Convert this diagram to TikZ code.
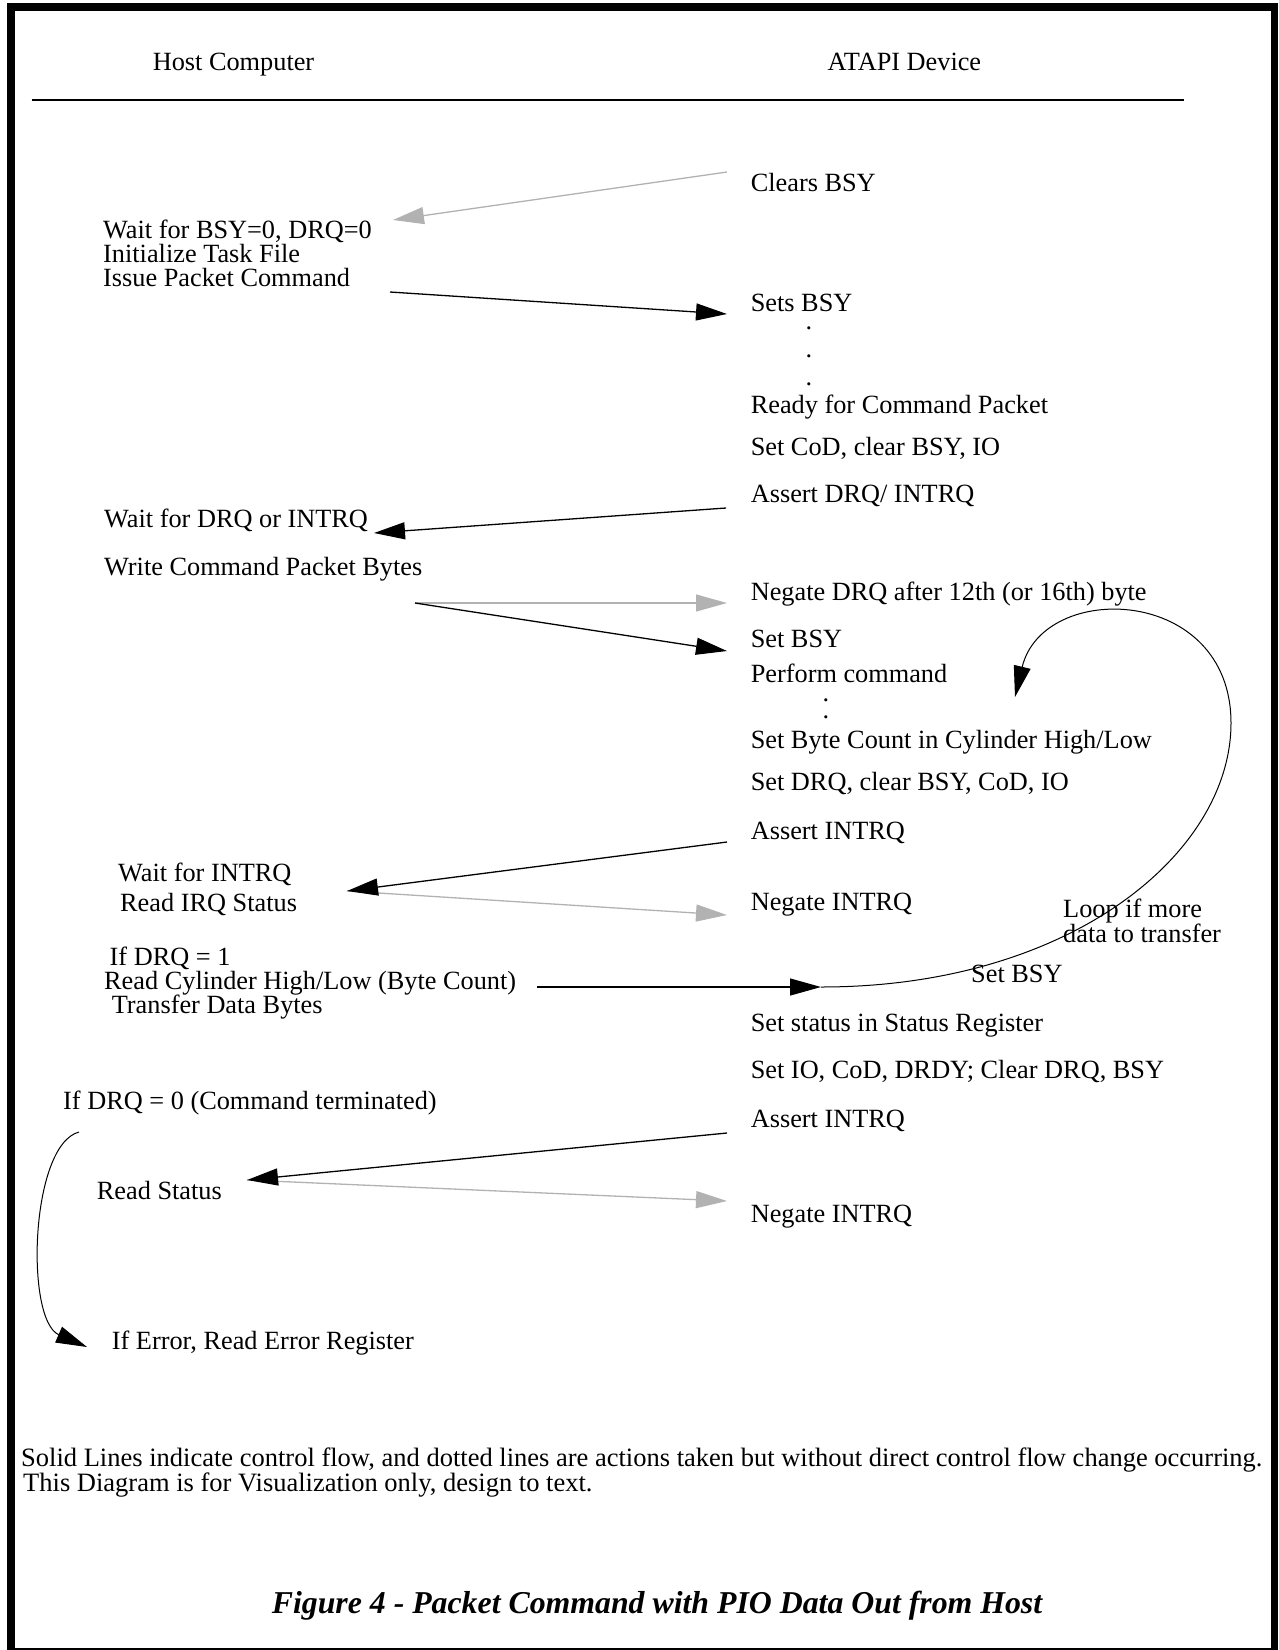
\documentclass[tikz,border=0pt]{standalone}
\usepackage{fontspec}
\setmainfont{Liberation Serif}
\usetikzlibrary{arrows.meta}
\definecolor{arrgray}{gray}{0.70}
\newcommand{\fs}{\fontsize{26.3}{24.2}\selectfont}
\newcommand{\fsfoot}{\fontsize{26.5}{24}\selectfont}
\begin{document}
\begin{tikzpicture}[x=1pt,y=-1pt,
  txt/.style={anchor=base west, inner sep=0pt, font=\fs},
  foot/.style={anchor=base west, inner sep=0pt, font=\fsfoot},
  dotmark/.style={anchor=base, inner sep=0pt, font=\fs},
  ctl/.style={draw=black, line width=1.3pt, -{Triangle[length=31pt,width=17pt]}},
  act/.style={draw=arrgray, line width=1.3pt, -{Triangle[length=31pt,width=17pt,fill=arrgray]}},
  loopln/.style={draw=black, line width=1pt, -{Triangle[length=31pt,width=17pt]}}]
\useasboundingbox (0,0) rectangle (1278,1650);
% frame
\fill (7,3) rectangle (1278,11);
\fill (7,3) rectangle (15,1650);
\fill (1271,3) rectangle (1278,1650);
\fill (7,1648) rectangle (1278,1650);
% headers
\node[txt] (hhost) at (152.6,70) {Host Computer};
\node[txt] (hdev) at (827.5,70) {ATAPI Device};
\coordinate (rulel) at (31.5,100);
\coordinate (ruler) at (1184,100);
\draw[line width=1.8pt] (rulel) -- (ruler);
% device column
\node[txt] (d1) at (750.6,191) {Clears BSY};
\node[txt] (d2) at (750.6,311) {Sets BSY};
\node[dotmark] (dt1) at (809,329) {.};
\node[dotmark] (dt2) at (809,357) {.};
\node[dotmark] (dt3) at (809,385) {.};
\node[txt] (d3) at (750.6,413) {Ready for Command Packet};
\node[txt] (d4) at (750.6,455) {Set CoD, clear BSY, IO};
\node[txt] (d5) at (750.6,502) {Assert DRQ/ INTRQ};
\node[txt] (d6) at (750.6,600) {Negate DRQ after 12th (or 16th) byte};
\node[txt] (d7) at (750.6,647) {Set BSY};
\node[txt] (d8) at (750.6,682) {Perform command};
\node[dotmark] (dt4) at (826,701) {.};
\node[dotmark] (dt5) at (826,718) {.};
\node[txt] (d9) at (750.6,748) {Set Byte Count in Cylinder High/Low};
\node[txt] (d10) at (750.6,790) {Set DRQ, clear BSY, CoD, IO};
\node[txt] (d11) at (750.6,839) {Assert INTRQ};
\node[txt] (d12) at (750.6,910.5) {Negate INTRQ};
\node[txt] (lp1) at (1063,917) {Loop if more};
\node[txt] (lp2) at (1063,942) {data to transfer};
\node[txt] (d13) at (971,982) {Set BSY};
\node[txt] (d14) at (750.6,1031) {Set status in Status Register};
\node[txt] (d15) at (750.6,1078) {Set IO, CoD, DRDY; Clear DRQ, BSY};
\node[txt] (d16) at (750.6,1127) {Assert INTRQ};
\node[txt] (d17) at (750.6,1222) {Negate INTRQ};
% host column
\node[txt] (h1) at (103,238) {Wait for BSY=0, DRQ=0};
\node[txt] (h2) at (103,262.5) {Initialize Task File};
\node[txt] (h3) at (103,286.5) {Issue Packet Command};
\node[txt] (h4) at (104,527) {Wait for DRQ or INTRQ};
\node[txt] (h5) at (104,575) {Write Command Packet Bytes};
\node[txt] (h6) at (118,881) {Wait for INTRQ};
\node[txt] (h7) at (120,911) {Read IRQ Status};
\node[txt] (h8) at (109.5,965) {If DRQ = 1};
\node[txt] (h9) at (104,989) {Read Cylinder High/Low (Byte Count)};
\node[txt] (h10) at (111.6,1013) {Transfer Data Bytes};
\node[txt] (h11) at (63,1109) {If DRQ = 0 (Command terminated)};
\node[txt] (h12) at (96.7,1199) {Read Status};
\node[txt] (h13) at (111.7,1349) {If Error, Read Error Register};
% footnote and caption
\node[foot] (f1) at (21,1466) {Solid Lines indicate control flow, and dotted lines are actions taken but without direct control flow change occurring.};
\node[foot] (f2) at (23,1491) {This Diagram is for Visualization only, design to text.};
\node[anchor=base, inner sep=0pt, font=\fontsize{31.8}{34}\selectfont\bfseries\itshape] (cap) at (657,1613) {Figure 4 - Packet Command with PIO Data Out from Host};
% connector end points
\coordinate (a1s) at (727,172);  \coordinate (a1e) at (393,220);
\coordinate (a2s) at (390,292);  \coordinate (a2e) at (727,314);
\coordinate (a3s) at (726,508);  \coordinate (a3e) at (374,533);
\coordinate (a4s) at (415,603);  \coordinate (a4e) at (727,603);
\coordinate (a5e) at (727,651);
\coordinate (a7s) at (727,842);  \coordinate (a7e) at (347,891);
\coordinate (a8e) at (727,915);
\coordinate (a9s) at (537,987);  \coordinate (a9e) at (821,987);
\coordinate (lpr) at (1231,723); \coordinate (lpe) at (1015,697);
\coordinate (a11s) at (727,1133); \coordinate (a11e) at (247,1180);
\coordinate (a12e) at (727,1201);
\coordinate (lcs) at (79,1132);  \coordinate (lce) at (87,1347);
% connectors
\draw[act] (a1s) -- (a1e);
\draw[ctl] (a2s) -- (a2e);
\draw[ctl] (a3s) -- (a3e);
\draw[act] (a4s) -- (a4e);
\draw[ctl] (a4s) -- (a5e);
\draw[act] (a7e) -- (a8e);
\draw[ctl] (a7s) -- (a7e);
\draw[ctl] (a9s) -- (a9e);
\draw[loopln] (a9e) .. controls (1071,987) and (1231,853) .. (lpr) .. controls (1231,585) and (1043,580) .. (lpe);
\draw[act] (a11e) -- (a12e);
\draw[ctl] (a11s) -- (a11e);
\draw[loopln] (lcs) .. controls (30,1145) and (25,1320) .. (lce);
\end{tikzpicture}
\end{document}
